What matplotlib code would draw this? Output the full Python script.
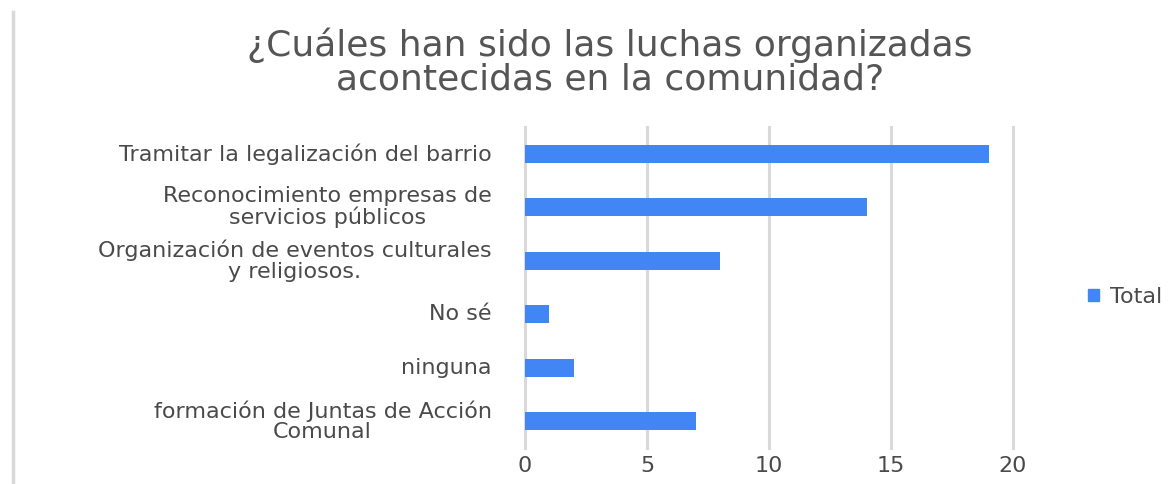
import matplotlib.pyplot as plt
from matplotlib.lines import Line2D
from matplotlib.patches import Patch

plt.rcParams['font.family'] = ['DejaVu Sans']

categories = ["Tramitar la legalización del barrio",
              "Reconocimiento empresas de\nservicios públicos",
              "Organización de eventos culturales\ny religiosos.",
              "No sé",
              "ninguna",
              "formación de Juntas de Acción\nComunal"]
totals = [19, 14, 8, 1, 2, 7]
xticks = [0, 5, 10, 15, 20]

bar_color = '#4285f4'
text_color = '#4a4a4a'

fig = plt.figure(figsize=(11.7, 4.84), dpi=100)
ax = fig.add_axes([525 / 1170, 1 - 448 / 484, 488 / 1170, 321 / 484])

ypos = list(range(len(categories)))
ax.barh(ypos, totals, height=0.34, color=bar_color, zorder=3)
ax.set_ylim(len(categories) - 0.5, -0.5)
ax.set_xlim(0, 20)
ax.set_xticks(xticks)
ax.set_yticks(ypos)
ax.set_yticklabels(categories, fontsize=16, color=text_color,
                   multialignment='center', linespacing=1.05,
                   va='center')
ax.tick_params(axis='y', length=0, pad=24)
ax.tick_params(axis='x', length=0, pad=6, labelsize=16, labelcolor=text_color)
ax.grid(axis='x', color='#d9d9d9', linewidth=2.2, zorder=0)
for gl in ax.get_xgridlines():
    gl.set_clip_on(False)
for s in ax.spines.values():
    s.set_visible(False)

fig.text(610 / 1170, 1 - 62 / 484,
         "¿Cuáles han sido las luchas organizadas\nacontecidas en la comunidad?",
         ha='center', va='center', fontsize=26, color='#555555', linespacing=1.0)

fig.legend(handles=[Patch(color=bar_color, label='Total')],
           loc='center left', bbox_to_anchor=(1068 / 1170, 1 - 297 / 484),
           frameon=False, fontsize=16, handlelength=0.5, handleheight=0.5,
           handletextpad=0.5, labelcolor=text_color)

fig.add_artist(Line2D([13 / 1170, 13 / 1170], [0, 1 - 12 / 484],
                      color='#d9d9d9', linewidth=2.5, transform=fig.transFigure))

fig.savefig('out.png', dpi=100)
